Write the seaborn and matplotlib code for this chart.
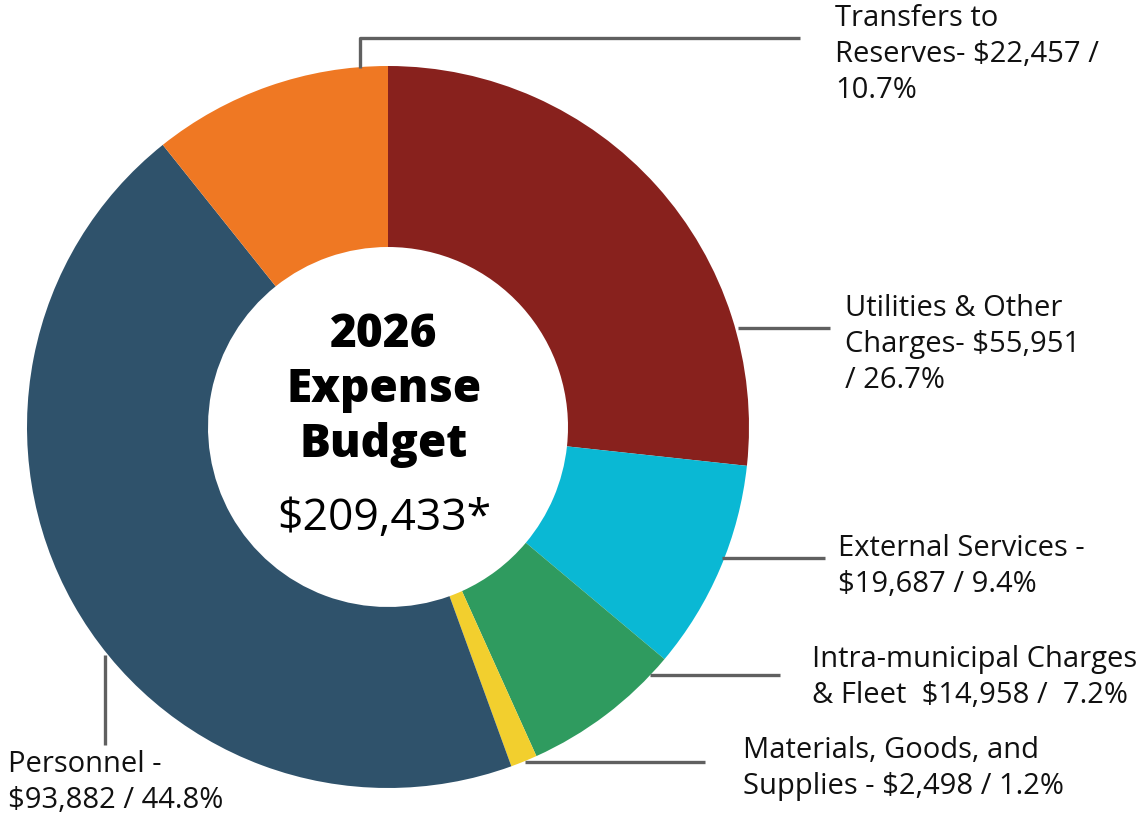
import matplotlib
matplotlib.use("Agg")
import matplotlib.pyplot as plt
import seaborn as sns

# data (thousands of $), clockwise from 12 o'clock
categories = ["Utilities & Other Charges", "External Services", "Intra-municipal Charges & Fleet",
              "Materials, Goods, and Supplies", "Personnel", "Transfers to Reserves"]
amounts = [55951, 19687, 14958, 2498, 93882, 22457]
percents = [26.7, 9.4, 7.2, 1.2, 44.8, 10.7]
total_label = "$209,433*"
colors = ["#88211d", "#0ab8d4", "#2f9b5f", "#f2cf2e", "#2f526b", "#ef7823"]

label_texts = [
    "Utilities & Other\nCharges- $55,951\n/ 26.7%",
    "External Services -\n$19,687 / 9.4%",
    "Intra-municipal Charges\n& Fleet  $14,958 /  7.2%",
    "Materials, Goods, and\nSupplies - $2,498 / 1.2%",
    "Personnel -\n$93,882 / 44.8%",
    "Transfers to\nReserves- $22,457 /\n10.7%",
]

W, H = 1141, 816
def Y(y):  # pixel row -> data y
    return H - y

sns.set_theme(style="white")
plt.rcParams["font.family"] = ["Open Sans", "DejaVu Sans"]

fig = plt.figure(figsize=(W / 100, H / 100), dpi=100)
ax = fig.add_axes([0, 0, 1, 1])

cx, cy, r_out = 388, Y(427), 361
ax.pie(amounts, colors=colors, startangle=90, counterclock=False,
       center=(cx, cy), radius=r_out, frame=True,
       wedgeprops=dict(width=r_out - 180, linewidth=0))
ax.set_xlim(0, W)
ax.set_ylim(0, H)
ax.set_aspect("equal")
ax.axis("off")

# leader lines (pixel layout)
line_kw = dict(color="#606060", lw=2.4, solid_capstyle="butt")
leaders = [
    [(738, 328), (830, 328)],
    [(722, 558), (825, 558)],
    [(650, 675), (780, 675)],
    [(525, 762), (705, 762)],
    [(105, 655), (105, 745)],
    [(360, 68), (360, 38), (800, 38)],
]
for pts in leaders:
    ax.plot([p[0] for p in pts], [Y(p[1]) for p in pts], **line_kw)

# label positions (left x, top y in pixels)
label_pos = [(845, 294), (838, 534), (812, 645), (743, 736), (8, 750), (835, 4)]
for txt, (x, y) in zip(label_texts, label_pos):
    ax.text(x, Y(y), txt, ha="left", va="top", fontsize=21,
            color="#111111", linespacing=1.31)

# center title
tx = 384
for word, y in zip(["2026", "Expense", "Budget"], [335, 390, 445]):
    ax.text(tx, Y(y), word, ha="center", va="center", fontsize=33,
            fontweight=800, color="black")
ax.text(tx, Y(519), total_label, ha="center", va="center", fontsize=32,
        color="black")

plt.savefig("out.png", dpi=100)
